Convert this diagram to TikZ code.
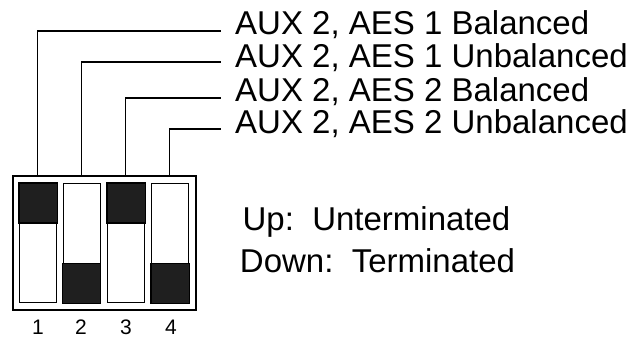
\documentclass[tikz,border=0pt]{standalone}
\usepackage{fontspec}
\setmainfont{Liberation Sans}
\begin{document}
\begin{tikzpicture}[x=1pt,y=-1pt,
  lbl/.style={font=\fontsize{33}{33}\selectfont, anchor=base west, inner sep=0pt},
  num/.style={font=\fontsize{21}{21}\selectfont, anchor=base, inner sep=0pt},
  slot/.style={draw=black, line width=1.2pt, fill=white},
  lead/.style={draw=black, line width=1.6pt}]
\useasboundingbox (0,0) rectangle (633,337);
% body
\node[draw=black, line width=2pt, minimum width=183pt, minimum height=134pt, inner sep=0pt, anchor=north west] (body) at (12,175) {};
% slots
\foreach \i/\xl in {1/19,2/62.5,3/107,4/151}{
  \node[slot, minimum width=37pt, minimum height=119pt, inner sep=0pt, anchor=north west] (s\i) at (\xl,183) {};
}
\filldraw[fill=black!88, draw=black, line width=1.2pt] (s1.north west) rectangle ([yshift=-40pt]s1.north east);
\filldraw[fill=black!88, draw=black, line width=1.2pt] (s3.north west) rectangle ([yshift=-40pt]s3.north east);
\filldraw[fill=black!88, draw=black, line width=1.2pt] (s2.south west) rectangle ([yshift=40pt]s2.south east);
\filldraw[fill=black!88, draw=black, line width=1.2pt] (s4.south west) rectangle ([yshift=40pt]s4.south east);
% labels
\node[lbl] (l1) at (235,35) {AUX 2, AES 1 Balanced};
\node[lbl] (l2) at (235,67.5) {AUX 2, AES 1 Unbalanced};
\node[lbl] (l3) at (235,102) {AUX 2, AES 2 Balanced};
\node[lbl] (l4) at (235,133.5) {AUX 2, AES 2 Unbalanced};
% leads
\coordinate (e1) at (221,31);
\coordinate (e2) at (221,62);
\coordinate (e3) at (221,98);
\coordinate (e4) at (221,129);
\coordinate (b1) at (37.5,175);
\coordinate (b2) at (81.5,175);
\coordinate (b3) at (125.5,175);
\coordinate (b4) at (169.5,175);
\foreach \i in {1,2,3,4}{
  \draw[lead] (b\i) |- (e\i);
}
% numbers
\node[num] (n1) at (38,334) {1};
\node[num] (n2) at (81,334) {2};
\node[num] (n3) at (126,334) {3};
\node[num] (n4) at (171,334) {4};
% legend
\node[font=\fontsize{33}{33}\selectfont, inner sep=0pt, anchor=base] (up) at (376.5,230) {Up:\ \ Unterminated};
\node[font=\fontsize{33}{33}\selectfont, inner sep=0pt, anchor=base] (down) at (377.5,272) {Down:\ \ Terminated};
\end{tikzpicture}
\end{document}
